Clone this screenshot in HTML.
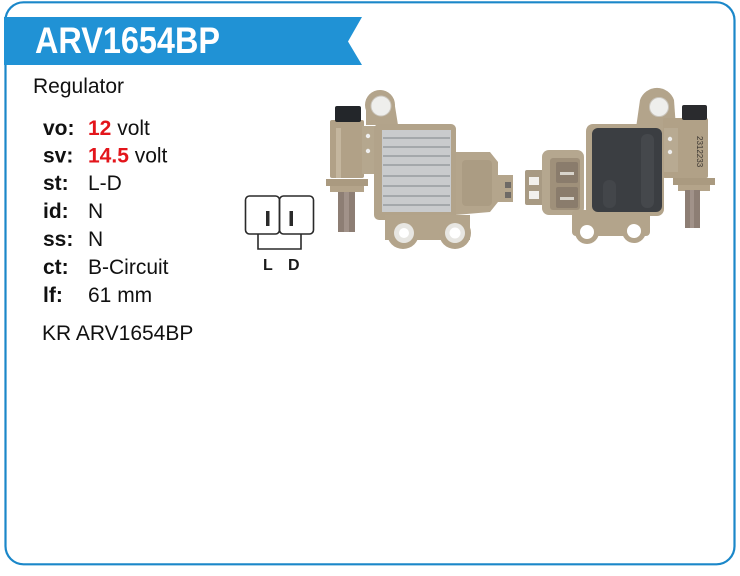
<!DOCTYPE html>
<html><head><meta charset="utf-8"><style>
html,body{margin:0;padding:0;background:#fff;}
body{width:740px;height:576px;overflow:hidden;}
svg{display:block;}
text{font-family:"Liberation Sans",Arial,sans-serif;}
</style></head><body>
<svg width="740" height="576" viewBox="0 0 740 576" xmlns="http://www.w3.org/2000/svg">
<rect x="0" y="0" width="740" height="576" fill="#fff"/>
<rect x="5.5" y="2.3" width="729" height="562" rx="18" ry="18" fill="#fff" stroke="#1b87c9" stroke-width="2.2"/>
<polygon points="4,17 362,17 348,41.5 362,65 4,65" fill="#2092d5"/>
<text x="35" y="53" font-size="37" font-weight="bold" fill="#fff" textLength="185" lengthAdjust="spacingAndGlyphs">ARV1654BP</text>
<text x="33" y="93" font-size="21" fill="#111">Regulator</text>

<g font-size="21" fill="#111">
<text x="43" y="135" font-weight="bold">vo:</text>
<text x="88" y="135"><tspan font-weight="bold" fill="#e3151b">12</tspan> volt</text>
<text x="43" y="162.5" font-weight="bold">sv:</text>
<text x="88" y="162.5"><tspan font-weight="bold" fill="#e3151b">14.5</tspan> volt</text>
<text x="43" y="190" font-weight="bold">st:</text>
<text x="88" y="190">L-D</text>
<text x="43" y="218" font-weight="bold">id:</text>
<text x="88" y="218">N</text>
<text x="43" y="246" font-weight="bold">ss:</text>
<text x="88" y="246">N</text>
<text x="43" y="274" font-weight="bold">ct:</text>
<text x="88" y="274">B-Circuit</text>
<text x="43" y="302" font-weight="bold">lf:</text>
<text x="88" y="302">61 mm</text>
<text x="42" y="340">KR ARV1654BP</text>
</g>

<!-- connector diagram -->
<g fill="none" stroke="#2a2a2a" stroke-width="1.6">
<rect x="245.5" y="196" width="34" height="38" rx="4"/>
<rect x="279.5" y="196" width="34" height="38" rx="4"/>
<polyline points="258,234 258,249 301,249 301,234"/>
</g>
<rect x="266" y="211" width="3.5" height="15" fill="#2a2a2a"/>
<rect x="289.5" y="211" width="3.5" height="15" fill="#2a2a2a"/>
<text x="263" y="270" font-size="16" font-weight="bold" fill="#1a1a1a">L</text>
<text x="288" y="270" font-size="16" font-weight="bold" fill="#1a1a1a">D</text>

<!-- left regulator -->
<g>
<rect x="330" y="120" width="34" height="58" rx="2" fill="#b1a187"/>
<rect x="336" y="128" width="5" height="50" fill="#c4b69e"/>
<rect x="335" y="106" width="26" height="16" rx="2" fill="#23262a"/>
<rect x="326" y="179" width="42" height="7" fill="#aa9a80"/>
<rect x="330" y="186" width="34" height="6" fill="#b4a48a"/>
<rect x="338" y="192" width="17" height="40" fill="#8d7e74"/>
<rect x="344" y="192" width="5" height="40" fill="#a19289"/>
<path d="M366,100 a15,15 0 0 1 28,0 L398,125 L366,125 Z" fill="#b3a48b"/>
<circle cx="380" cy="105" r="15" fill="#b3a48b"/>
<circle cx="381" cy="106" r="10" fill="#eeeeec" stroke="#c9c4bb" stroke-width="1"/>
<rect x="362" y="126" width="14" height="48" fill="#b5a78e"/>
<circle cx="368" cy="136" r="2.2" fill="#eee"/>
<circle cx="368" cy="151" r="2.2" fill="#eee"/>
<polygon points="455,152 490,152 498,162 498,175 513,175 513,202 498,202 490,212 455,215" fill="#b4a58c"/>
<rect x="462" y="160" width="30" height="46" rx="4" fill="#ab9c83"/>
<rect x="505" y="182" width="6" height="6" fill="#6e6a66"/>
<rect x="505" y="192" width="6" height="6" fill="#6e6a66"/>
<rect x="374" y="124" width="82" height="96" rx="5" fill="#b2a38a"/>
<rect x="382" y="130" width="69" height="82" fill="#c9cbcd"/>
<g stroke="#8e9297" stroke-width="1.3">
<line x1="383" y1="138" x2="450" y2="138"/>
<line x1="383" y1="147" x2="450" y2="147"/>
<line x1="383" y1="156" x2="450" y2="156"/>
<line x1="383" y1="165" x2="450" y2="165"/>
<line x1="383" y1="176" x2="450" y2="176"/>
<line x1="383" y1="186" x2="450" y2="186"/>
<line x1="383" y1="196" x2="450" y2="196"/>
<line x1="383" y1="205" x2="450" y2="205"/>
</g>
<path d="M385,215 L470,215 L470,240 L385,240 Z" fill="#b3a48b"/>
<circle cx="403" cy="233" r="16" fill="#b3a48b"/>
<circle cx="455" cy="233" r="16" fill="#b3a48b"/>
<circle cx="404" cy="233" r="10" fill="#e7e6e2"/>
<circle cx="404" cy="233" r="5" fill="#fff"/>
<circle cx="455" cy="233" r="10" fill="#e7e6e2"/>
<circle cx="455" cy="233" r="5.5" fill="#fff"/>
</g>

<!-- right regulator -->
<g>
<rect x="525" y="170" width="19" height="35" rx="2" fill="#a89a83"/>
<rect x="529" y="177" width="10" height="8" fill="#f2f0ec"/>
<rect x="529" y="191" width="10" height="8" fill="#f2f0ec"/>
<rect x="542" y="150" width="42" height="65" rx="7" fill="#b5a78f"/>
<rect x="550" y="158" width="30" height="52" rx="3" fill="#9f907a"/>
<rect x="556" y="162" width="22" height="21" rx="2" fill="#8a7c6c"/>
<rect x="556" y="187" width="22" height="21" rx="2" fill="#8a7c6c"/>
<rect x="560" y="172" width="14" height="3" fill="#d8d4cc"/>
<rect x="560" y="197" width="14" height="3" fill="#d8d4cc"/>
<path d="M640,100 a18,18 0 0 1 34,0 L676,128 L636,128 Z" fill="#b3a48b"/>
<circle cx="658" cy="107" r="15" fill="#b3a48b"/>
<circle cx="659" cy="107" r="9.5" fill="#eeeeec" stroke="#c9c4bb" stroke-width="1"/>
<rect x="572" y="210" width="78" height="26" rx="4" fill="#b3a48b"/>
<circle cx="587" cy="232" r="12" fill="#b3a48b"/>
<circle cx="634" cy="231" r="12" fill="#b3a48b"/>
<circle cx="587" cy="232" r="7" fill="#fff"/>
<circle cx="634" cy="231" r="7" fill="#fff"/>
<rect x="586" y="124" width="78" height="92" rx="7" fill="#b3a48b"/>
<rect x="592" y="128" width="70" height="84" rx="6" fill="#3b3e42"/>
<rect x="641" y="134" width="13" height="74" rx="6" fill="#45484c"/>
<rect x="603" y="180" width="13" height="28" rx="6" fill="#43464a"/>
<rect x="663" y="118" width="45" height="60" rx="2" fill="#b1a187"/>
<rect x="664" y="128" width="14" height="44" fill="#b8aa92"/>
<circle cx="670" cy="139" r="2.2" fill="#eee"/>
<circle cx="670" cy="152" r="2.2" fill="#eee"/>
<rect x="682" y="105" width="25" height="15" rx="2" fill="#2a2b2e"/>
<text x="0" y="0" font-size="8" fill="#3a3530" transform="translate(697,136) rotate(90)">2312233</text>
<rect x="673" y="178" width="42" height="7" fill="#aa9a80"/>
<rect x="678" y="185" width="32" height="6" fill="#b4a48a"/>
<rect x="685" y="190" width="15" height="38" fill="#8d7e74"/>
<rect x="690" y="190" width="4" height="38" fill="#a19289"/>
</g>
</svg>
</body></html>
